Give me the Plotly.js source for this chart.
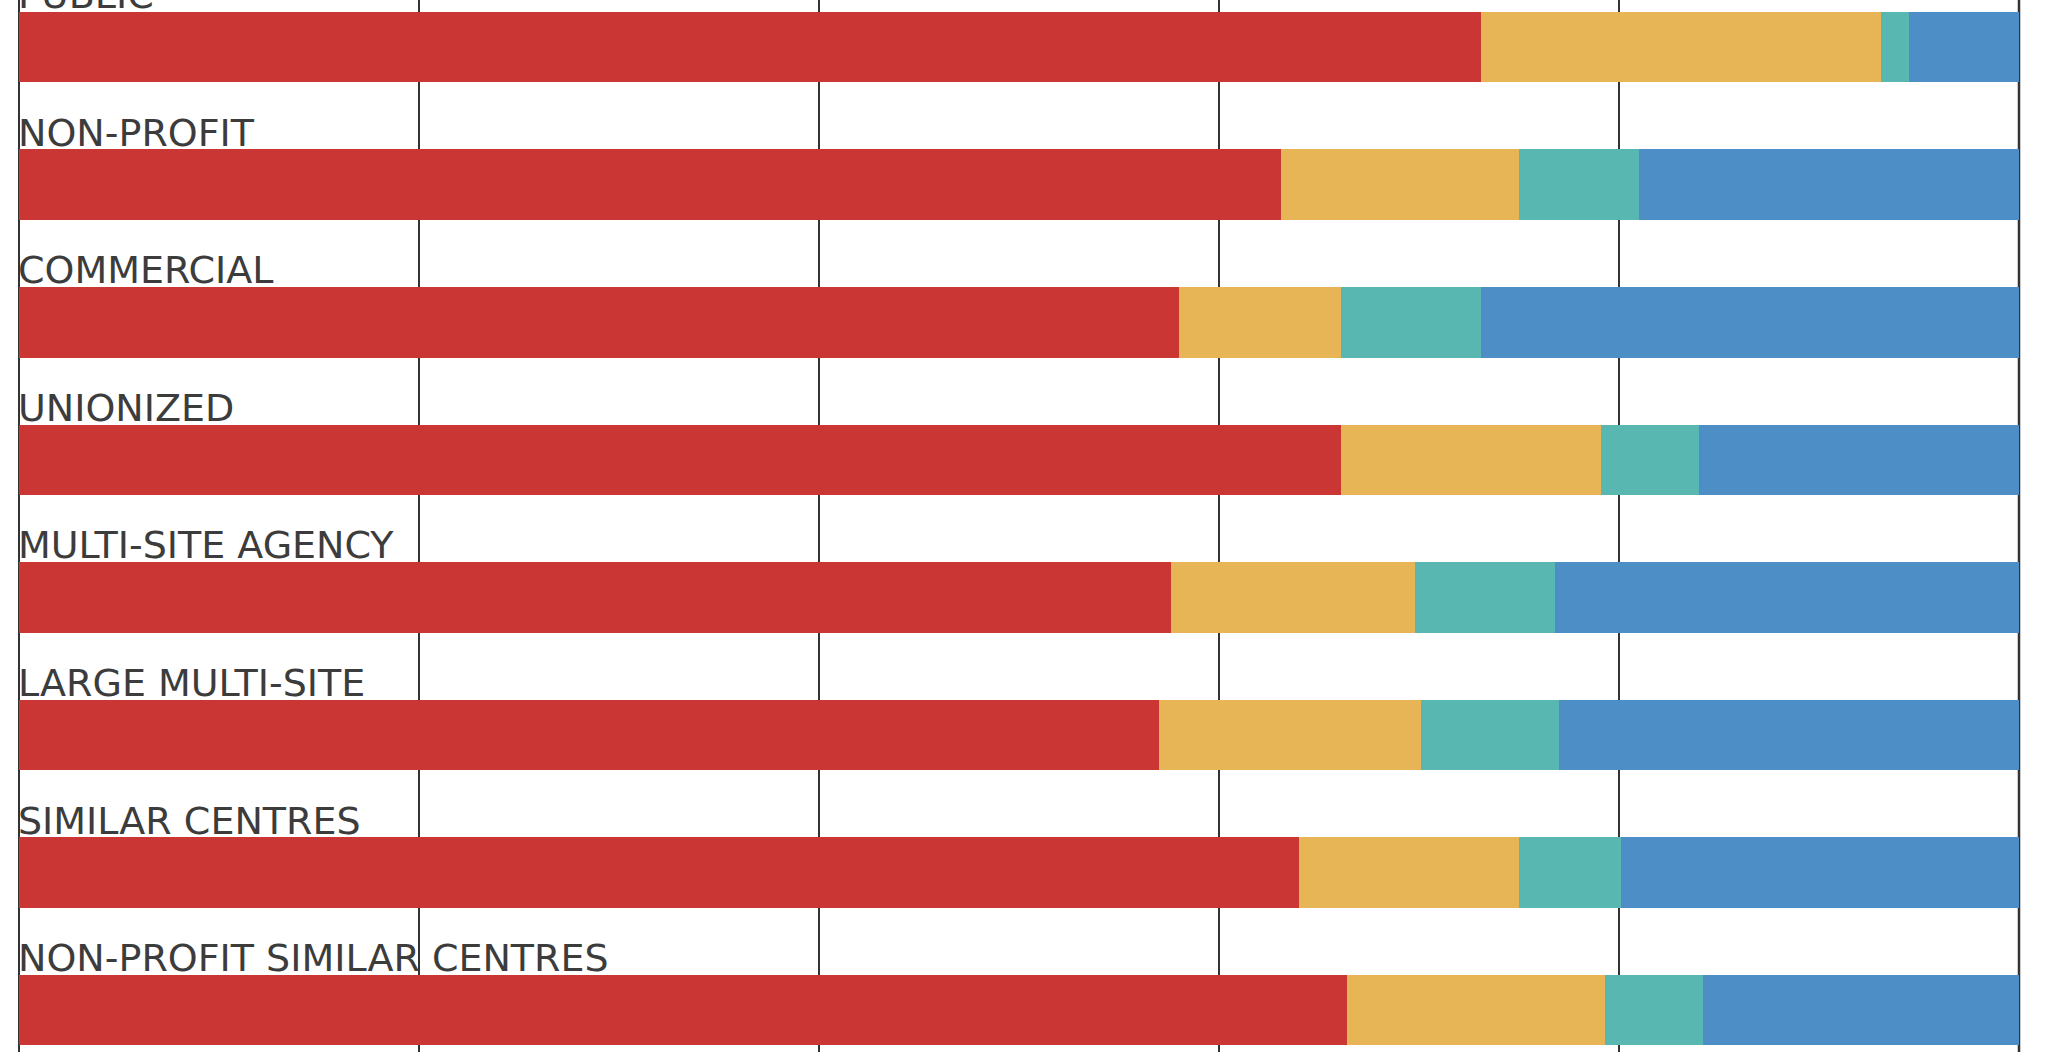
<!DOCTYPE html>
<html>
<head>
<meta charset="utf-8">
<script src="https://cdn.plot.ly/plotly-3.0.1.min.js"></script>
<style>
  html, body { margin: 0; padding: 0; background: #ffffff; }
  #chart { width: 2048px; height: 1052px; }
</style>
</head>
<body>
<div id="chart"></div>
<script>
const categories = [
  "PUBLIC",
  "NON-PROFIT",
  "COMMERCIAL",
  "UNIONIZED",
  "MULTI-SITE AGENCY",
  "LARGE MULTI-SITE",
  "SIMILAR CENTRES",
  "NON-PROFIT SIMILAR CENTRES"
];
const seriesNames = ["Series 1", "Series 2", "Series 3", "Series 4"];
const series1 = [73.1, 63.1, 58.0, 66.1, 57.6, 57.0, 64.0, 66.4];
const series2 = [20.0, 11.9, 8.1, 13.0, 12.2, 13.1, 11.0, 12.9];
const series3 = [1.4, 6.0, 7.0, 4.9, 7.0, 6.9, 5.1, 4.9];
const series4 = [5.5, 19.0, 26.9, 16.0, 23.2, 23.0, 19.9, 15.8];
const axisMax = 100;
const colors = ["#CA3634", "#E8B556", "#59B7B2", "#4E8EC6"];

const allSeries = [series1, series2, series3, series4];
const traces = allSeries.map((vals, k) => ({
  type: "bar",
  orientation: "h",
  name: seriesNames[k],
  x: vals,
  y: categories,
  marker: { color: colors[k], line: { width: 0 } },
  hoverinfo: "x+y"
}));

const annotations = categories.map(c => ({
  xref: "x", yref: "y",
  x: 0, y: c,
  text: c,
  showarrow: false,
  xanchor: "left", yanchor: "bottom",
  xshift: -3, yshift: 28,
  font: { family: "DejaVu Sans", size: 38, color: "#3c3c3c" }
}));

const layout = {
  width: 2048, height: 1052,
  margin: { l: 19, r: 9, t: 0, b: 0, pad: 0 },
  paper_bgcolor: "#ffffff",
  plot_bgcolor: "rgba(0,0,0,0)",
  barmode: "stack",
  bargap: 0.487,
  showlegend: false,
  xaxis: {
    range: [0, 101],
    tickmode: "linear",
    tick0: 0,
    dtick: 20,
    showgrid: true,
    gridcolor: "#333333",
    gridwidth: 2,
    zeroline: true,
    zerolinecolor: "#333333",
    zerolinewidth: 2,
    showticklabels: false,
    ticks: "",
    showline: false,
    fixedrange: true
  },
  yaxis: {
    type: "category",
    categoryorder: "array",
    categoryarray: categories,
    range: [7.304, -0.342],
    showgrid: false,
    zeroline: false,
    showticklabels: false,
    ticks: "",
    showline: false,
    fixedrange: true
  },
  shapes: [{
    type: "line", layer: "below",
    xref: "x", yref: "paper",
    x0: axisMax, x1: axisMax, y0: 0, y1: 1,
    line: { color: "#333333", width: 2.5 }
  }],
  annotations: annotations
};

Plotly.newPlot("chart", traces, layout, { displayModeBar: false, staticPlot: true });
</script>
</body>
</html>
